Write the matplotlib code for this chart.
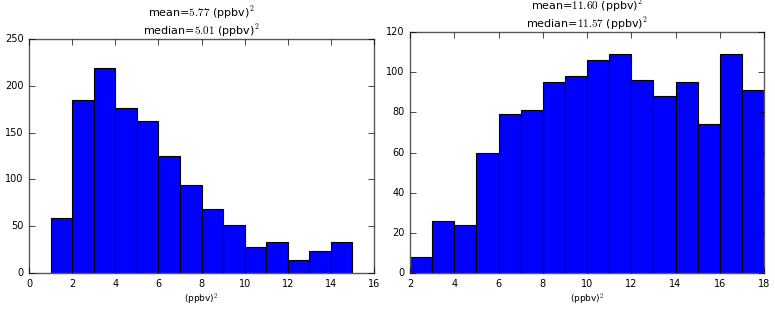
import numpy as np
import matplotlib
matplotlib.use('Agg')
from matplotlib import pyplot as plt

plt.style.use('classic')

# left histogram: bins of width 1 from 1 to 15
left_edges = [1, 2, 3, 4, 5, 6, 7, 8, 9, 10, 11, 12, 13, 14, 15]
left_counts = [59, 185, 219, 176, 162, 125, 94, 68, 51, 28, 33, 14, 23, 33]
left_mean = 5.77
left_median = 5.01

# right histogram: bins of width 1 from 2 to 18
right_edges = [2, 3, 4, 5, 6, 7, 8, 9, 10, 11, 12, 13, 14, 15, 16, 17, 18]
right_counts = [8, 26, 24, 60, 79, 81, 95, 98, 106, 109, 96, 88, 95, 74, 109, 91]
right_mean = 11.60
right_median = 11.57

fig = plt.figure(figsize=(7.75, 3.1), dpi=100)
fig.patch.set_facecolor('white')

ax1 = fig.add_axes([29/775, 1 - 273/310, 345/775, 234/310])
ax2 = fig.add_axes([410/775, 1 - 273/310, 354/775, 241/310])


def draw_hist(ax, edges, counts, mean, median, xlim, ylim, yticks):
    edges = np.array(edges)
    ax.bar(edges[:-1], counts, width=np.diff(edges), align='edge',
           color='b', edgecolor='k', linewidth=0.8)
    ax.set_xlim(*xlim)
    ax.set_ylim(*ylim)
    ax.set_yticks(yticks)
    ax.tick_params(labelsize=7, length=4)
    ax.set_xlabel('(ppbv)$^2$', fontsize=6.5, labelpad=2)
    ax.set_title('mean=$%.2f$ (ppbv)$^2$\nmedian=$%.2f$ (ppbv)$^2$' % (mean, median),
                 fontsize=8, linespacing=1.15, pad=3)
    for s in ax.spines.values():
        s.set_color('0.35')


draw_hist(ax1, left_edges, left_counts, left_mean, left_median,
          (0, 16), (0, 250), range(0, 251, 50))
draw_hist(ax2, right_edges, right_counts, right_mean, right_median,
          (2, 18), (0, 120), range(0, 121, 20))

fig.savefig('out.png', dpi=100, facecolor='white')
